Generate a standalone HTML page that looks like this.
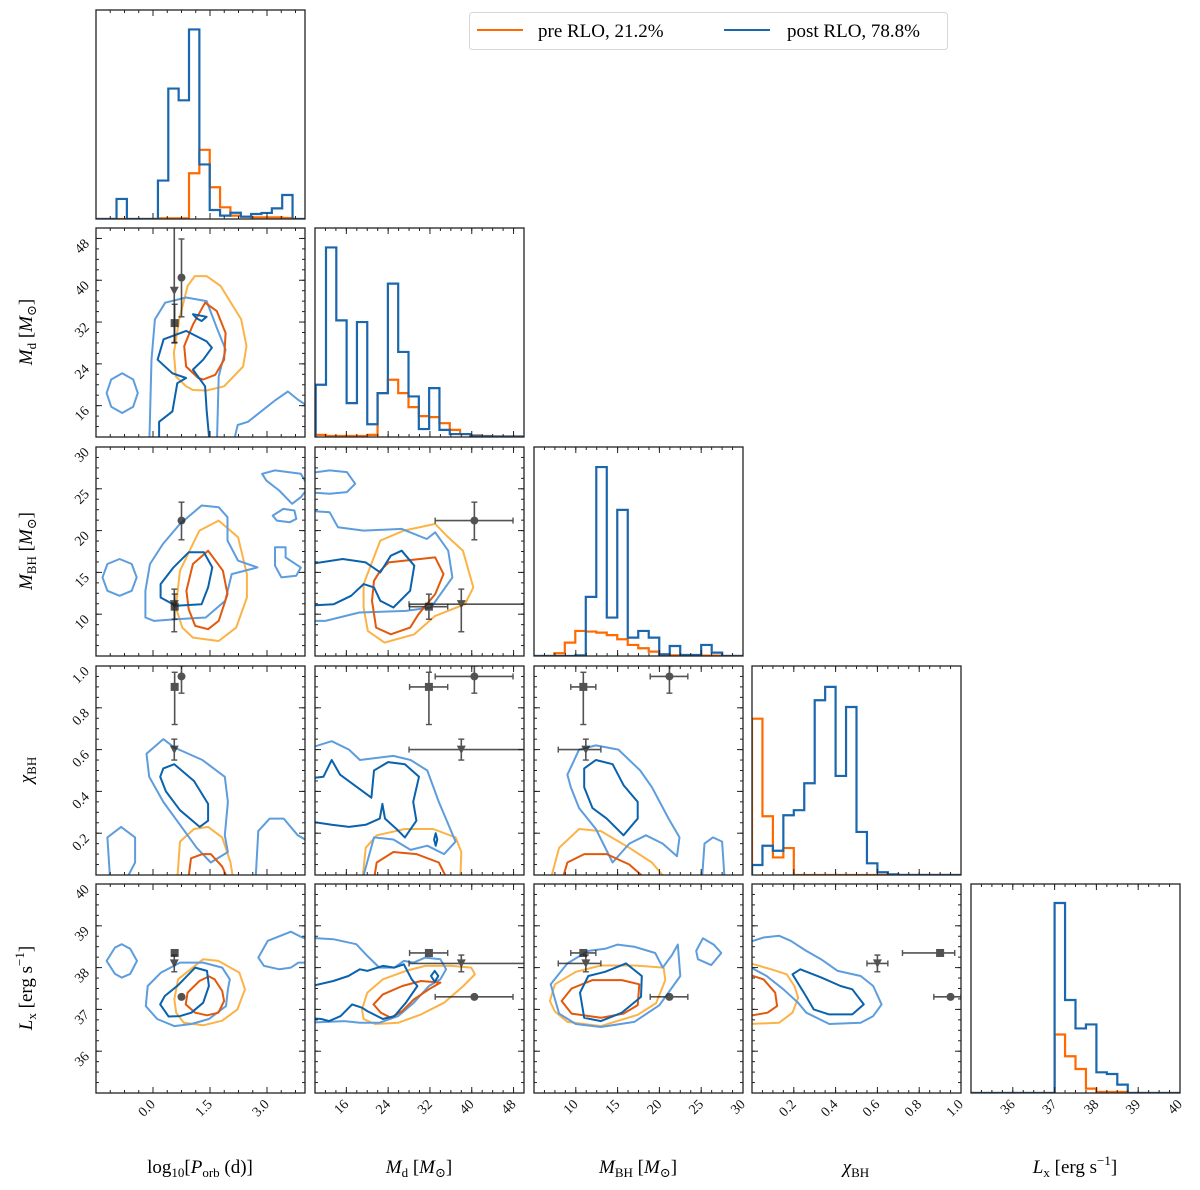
<!DOCTYPE html>
<html><head><meta charset="utf-8"><style>
html,body{margin:0;padding:0;background:#fff;}
svg{display:block;font-family:"Liberation Serif","DejaVu Serif",serif;}
</style></head><body>
<svg id="chart" width="1200" height="1190" viewBox="0 0 1200 1190" xmlns="http://www.w3.org/2000/svg"></svg>
<script>
// ---------- data ----------
const varNames = ['logP','Md','MBH','chi','Lx'];
const ranges = [[-1.5,4],[10,50],[5,30],[0,1],[35,40]];
const majorTicks = [[0,1.5,3],[16,24,32,40,48],[10,15,20,25,30],[0.2,0.4,0.6,0.8,1.0],[36,37,38,39,40]];
const tickLabels = [['0.0','1.5','3.0'],['16','24','32','40','48'],['10','15','20','25','30'],['0.2','0.4','0.6','0.8','1.0'],['36','37','38','39','40']];
const minorSteps = [0.375,2,1.25,0.05,0.25];

// histograms (diagonal)
const histStart = [-0.96,10.13,7.43,0,37];
const histWidth = [0.2725,1.974,1.255,0.05,0.25];
const histPost_logP = [.096,0,0,0,.184,.624,.568,.907,.261,.043,.016,.03,.011,.024,.029,.051,.115];
const histPre_logP  = [0,0,0,0,.003,.003,.003,.219,.331,.152,.056,.016,.011,.008,.008,.008,.005];
const histPost_Md = [.25,.907,.558,.162,.55,.061,.21,.734,.407,.194,.038,.234,.034,.014,.014,.005,.003,.002,.002,.002];
const histPre_Md  = [.01,.005,.005,.005,.005,.01,.21,.274,.21,.143,.1,.095,.066,.034,.014,.008,.005,.003,.003,.003];
const histPost_MBH = [0,0,.003,.283,.904,.184,.699,.088,.12,.088,.008,.048,.005,.005,.053,.016];
const histPre_MBH  = [.013,.064,.12,.117,.112,.1,.08,.053,.037,.021,.008,.003,.003,.002,.002,.002];
const histPost_chi = [.048,.14,.116,.286,.31,.439,.836,.9,.474,.804,.206,.056,.013,.003];
const histPre_chi  = [.748,.281,.084,.129,0,0,0,0,0,0,0,0,0,0];
const histPost_Lx = [.909,.445,.309,.328,.099,.091,.04];
const histPre_Lx  = [.28,.176,.115,.021,.005,.005,.005];
const histPost = [histPost_logP,histPost_Md,histPost_MBH,histPost_chi,histPost_Lx];
const histPre = [histPre_logP,histPre_Md,histPre_MBH,histPre_chi,histPre_Lx];

// observed systems
const obsMarkers = ['circle','square','triangle'];
const obsLogP = [0.75,0.57,0.56];
const obsMd = [40.5,31.8,38];
const obsMdLo = [7.5,3.7,10];
const obsMdHi = [7.4,3.6,20];
const obsMBH = [21.2,10.9,11.2];
const obsMBHLo = [2.3,1.5,3.3];
const obsMBHHi = [2.2,1.5,1.8];
const obsChi = [0.95,0.9,0.6];
const obsChiLo = [0.08,0.18,0.05];
const obsChiHi = [0.05,0.07,0.05];
const obsLx = [37.3,38.35,38.1];
const obsLxLo = [0,0.05,0.2];
const obsLxHi = [0,0.05,0.2];

// contours: [row, col, kind, closed, points(data units)]
const contours = [
 [1,0,'postOuter',true,[[-0.1,8],[-0.04,24.8],[0.05,32.5],[0.32,35.7],[0.87,36.7],[1.41,36],[1.68,30.9],[1.91,26.7],[1.73,21.6],[1.68,8]]],
 [1,0,'postInner',true,[[0.16,8],[0.16,12.9],[0.51,14.9],[0.64,20.3],[0.87,21.3],[0.51,22.2],[0.12,24.8],[0.28,28.7],[0.87,30.3],[1.41,28.3],[1.55,27.1],[1.32,24.8],[1.05,22.9],[1.37,19.7],[1.41,15.2],[1.5,8]]],
 [1,0,'postInner',true,[[1.05,33.5],[1.41,33],[1.28,32.2],[1.15,32.7]]],
 [1,0,'postOuter',true,[[-1.22,18.4],[-1.1,21],[-0.81,22.2],[-0.52,21],[-0.4,18.4],[-0.52,15.8],[-0.81,14.6],[-1.1,15.8]]],
 [1,0,'postOuter',false,[[2.09,8],[2.23,12.3],[2.5,12.9],[3.23,17.1],[3.55,18.7],[3.82,17.1],[4.1,15.8]]],
 [1,0,'preInner',true,[[1.19,21.3],[0.87,23.5],[0.82,27.4],[1.05,31.5],[1.37,35.7],[1.68,34.1],[1.91,29.9],[1.87,24.8],[1.64,21.9],[1.32,21]]],
 [1,0,'preOuter',true,[[0.87,19.7],[0.6,21.6],[0.55,26.1],[0.69,32.5],[0.91,38.9],[1.1,40.8],[1.41,40.8],[1.78,38.9],[2.32,32.5],[2.46,27.4],[2.37,23.5],[1.87,19.7],[1.41,18.9],[1.05,19]]],

 [2,0,'postOuter',true,[[-0.2,9.6],[0.03,9.2],[0.6,9.4],[1.39,9.6],[1.9,11.6],[2.07,14.8],[2.75,15.6],[2.24,16.4],[1.96,18.8],[1.96,21.6],[1.73,22.8],[1.28,23],[0.71,20.8],[0.26,18.4],[-0.08,16],[-0.2,12.8]]],
 [2,0,'postInner',true,[[0.2,12],[0.6,11],[1.28,11.2],[1.45,13.2],[1.56,15.6],[1.34,17.4],[0.94,17.4],[0.54,15.6],[0.2,13.6]]],
 [2,0,'postOuter',true,[[-1.33,14.4],[-1.2,16],[-0.88,16.6],[-0.56,16],[-0.43,14.4],[-0.56,12.8],[-0.88,12.2],[-1.2,12.8]]],
 [2,0,'postOuter',true,[[2.87,26.8],[3.21,27.2],[3.89,26.8],[4.1,25.2],[3.89,24],[3.66,23.2],[3.32,24.8],[2.98,26]]],
 [2,0,'postOuter',true,[[3.15,21.8],[3.43,22.6],[3.72,22.4],[3.77,21.4],[3.6,21],[3.26,21.2]]],
 [2,0,'postOuter',true,[[3.21,18],[3.49,18],[3.49,16.8],[3.89,15.6],[3.77,14.6],[3.38,14.4],[3.21,15.8]]],
 [2,0,'preInner',true,[[0.94,10.6],[1.11,8.6],[1.45,8.2],[1.73,9.2],[1.96,12.4],[1.84,15.2],[1.45,17.6],[1.05,16],[0.88,12.8]]],
 [2,0,'preOuter',true,[[0.77,8.4],[1.05,7.2],[1.73,6.8],[2.19,8.4],[2.47,12],[2.47,14.8],[2.24,19.2],[1.73,21.2],[1.22,20],[0.71,15.2],[0.6,10.8]]],

 [2,1,'postOuter',true,[[8,22.4],[12.8,22.2],[14.4,20.4],[19.3,20],[26.6,20.2],[31.4,19],[33,19.8],[35.5,17.6],[36.3,14.4],[32.2,10.8],[27.4,10.4],[18.5,10.2],[12,9.2],[8,9.2]]],
 [2,1,'postOuter',true,[[8,26.8],[12.8,27.2],[16.1,27],[17.7,25.6],[16.1,24.6],[12.8,24.4],[8,24.6]]],
 [2,1,'postInner',true,[[8,15.9],[15.3,16.6],[19.7,16.2],[22.5,15],[24.5,17],[26.6,17.6],[29,15.8],[28.2,12.8],[25,10.8],[22.5,11.6],[21.3,13.2],[19.3,13.6],[16.9,12.2],[13.6,11.2],[8,11]]],
 [2,1,'preInner',true,[[22.5,15.2],[24.1,16.2],[33,16.8],[34.6,14.8],[33,12.4],[29.8,10],[28.2,8.4],[24.5,7.6],[21.7,8.4],[20.9,11.6],[21.3,14]]],
 [2,1,'preOuter',true,[[19.3,13.6],[22.5,18.8],[27,20],[33,20.8],[35.5,19.2],[38.3,17.6],[40.3,13.2],[38.7,11.2],[33,9.8],[29,7.6],[23.3,6.6],[20.1,8],[19.3,10.8]]],

 [3,0,'postOuter',true,[[0.27,.65],[0.56,.61],[1.3,.55],[1.89,.47],[1.97,.35],[1.89,.19],[1.97,.11],[1.52,.06],[1.15,.13],[0.71,.24],[0.27,.35],[-0.1,.47],[-0.17,.58]]],
 [3,0,'postInner',true,[[0.27,.51],[0.56,.53],[1.08,.45],[1.45,.34],[1.45,.26],[1.23,.23],[0.71,.31],[0.34,.40],[0.19,.47]]],
 [3,0,'postOuter',true,[[-1.13,-0.02],[-1.2,.18],[-0.84,.23],[-0.47,.18],[-0.47,.06],[-0.7,-0.02]]],
 [3,0,'postOuter',false,[[2.7,-0.02],[2.77,.21],[3.07,.27],[3.44,.27],[3.81,.19],[4.1,.16]]],
 [3,0,'preOuter',false,[[0.64,-0.02],[0.71,.16],[1.08,.22],[1.45,.23],[1.82,.18],[2.04,.06],[2.11,-0.02]]],
 [3,0,'preInner',false,[[0.93,-0.02],[1.0,.08],[1.3,.1],[1.52,.1],[1.82,.04],[1.97,-0.02]]],

 [3,1,'postOuter',false,[[8,.6],[13.2,.64],[16.5,.6],[18.6,.55],[25,.57],[28.3,.55],[31.5,.5],[33.7,.35],[36.9,.16],[34.7,.1],[31.5,.14],[28.3,.12],[25,.17],[21.3,.18],[19.1,-0.02]]],
 [3,1,'postInner',false,[[8,.46],[11.6,.47],[13.2,.55],[14.8,.48],[17.5,.43],[20.8,.37],[21.3,.5],[24,.54],[27.2,.53],[29.9,.47],[28.8,.35],[29.4,.26],[27.2,.18],[25.6,.22],[23.4,.27],[22.9,.34],[22.4,.27],[19.7,.24],[16.5,.23],[13.2,.24],[8,.26]]],
 [3,1,'postInner',true,[[33.1,.2],[33.4,.17],[33.1,.14],[32.8,.17]]],
 [3,1,'preOuter',false,[[19.1,-0.02],[19.7,.13],[21.8,.19],[27.2,.22],[32.6,.22],[36.9,.18],[38,.11],[37.8,-0.02]]],
 [3,1,'preInner',false,[[21.3,-0.02],[21.8,.06],[25,.11],[29.4,.1],[33.7,.06],[35.3,-0.02]]],

 [3,2,'postOuter',true,[[9,.48],[10.4,.6],[12.4,.62],[15.1,.6],[17.7,.5],[19.1,.42],[21.1,.27],[22.4,.18],[22.1,.09],[20.4,.15],[18.4,.19],[16.4,.15],[14.4,.06],[12.4,.22],[10.4,.32],[9.4,.42]]],
 [3,2,'postInner',true,[[11,.51],[12.4,.55],[14.4,.53],[15.7,.43],[17.4,.35],[17.4,.27],[15.7,.19],[13.7,.27],[12,.32],[11,.42]]],
 [3,2,'postOuter',false,[[25.1,-0.02],[25.4,.15],[26.4,.18],[27.5,.16],[27.8,-0.02]]],
 [3,2,'preOuter',false,[[7,-0.02],[8,.13],[10.4,.22],[13,.21],[16.4,.13],[19.1,.06],[20.8,-0.02]]],
 [3,2,'preInner',false,[[8.4,-0.02],[9,.06],[11,.1],[13.7,.1],[16.4,.05],[18.4,-0.02]]],

 [4,0,'postOuter',true,[[-0.19,37.08],[-0.14,37.56],[0.21,37.88],[0.71,38.12],[1.32,38.12],[1.82,38.0],[2.02,37.72],[1.97,37.48],[1.92,37.08],[1.47,36.77],[1.01,36.65],[0.56,36.6],[0.11,36.77]]],
 [4,0,'postInner',true,[[0.19,37.12],[0.31,37.32],[0.66,37.58],[1.11,38.0],[1.42,37.92],[1.47,37.56],[1.32,37.16],[1.01,36.92],[0.71,36.84],[0.41,36.83]]],
 [4,0,'preInner',true,[[0.86,37.12],[0.91,37.4],[1.22,37.68],[1.47,37.79],[1.62,37.72],[1.82,37.44],[1.87,37.2],[1.72,36.92],[1.42,36.86],[1.11,36.92]]],
 [4,0,'preOuter',true,[[0.61,36.92],[0.56,37.24],[0.66,37.72],[1.32,38.2],[1.72,38.16],[2.27,37.88],[2.42,37.48],[2.22,37.0],[1.82,36.73],[1.32,36.62],[0.81,36.68]]],
 [4,0,'postOuter',true,[[-1.22,38.16],[-1.0,38.48],[-0.82,38.56],[-0.6,38.45],[-0.42,38.16],[-0.6,37.85],[-0.82,37.76],[-1.0,37.85]]],
 [4,0,'postOuter',false,[[4.1,38.68],[3.93,38.72],[3.63,38.86],[3.02,38.64],[2.77,38.24],[2.92,38.04],[3.33,37.96],[3.63,38.0],[3.83,38.12],[4.1,38.12]]],

 [4,1,'postOuter',false,[[8,38.72],[13.5,38.68],[17.9,38.56],[20,38.28],[22.3,38.0],[25.2,38.0],[27,38.16],[28.9,38.12],[31.1,38.24],[34,38.2],[35.1,37.96],[34,37.72],[31.8,37.56],[28.9,37.16],[25.9,36.84],[22.3,36.68],[18.6,36.68],[15.6,36.72],[8,36.68]]],
 [4,1,'postInner',false,[[8,37.52],[13.5,37.68],[16.4,37.8],[18.6,37.96],[20,37.92],[23,38.04],[25.2,38.0],[27,38.08],[28.5,37.72],[29.6,37.56],[27.4,37.16],[25.2,36.84],[23,36.77],[20,36.96],[19,37.04],[17.1,37.12],[14.9,36.84],[12.7,36.72],[11.2,36.77],[8,36.8]]],
 [4,1,'postInner',true,[[32.9,37.92],[33.6,37.8],[32.9,37.66],[32.2,37.8]]],
 [4,1,'preInner',true,[[21.2,37.12],[23,37.36],[26.7,37.56],[30.3,37.68],[34,37.64],[31.8,37.48],[28.9,37.24],[26.7,36.96],[24.5,36.8],[22.6,36.92]]],
 [4,1,'preOuter',true,[[19,37.0],[20,37.4],[23,37.72],[27.4,37.92],[31.1,38.04],[36.2,38.04],[39.9,38.0],[40.6,37.84],[38.4,37.56],[34.7,37.16],[30.3,36.88],[25.9,36.68],[21.5,36.65],[19.3,36.77]]],

 [4,2,'postOuter',true,[[7,37.6],[9,38.1],[11.5,38.4],[13.5,38.45],[15,38.55],[17,38.5],[19.5,38.35],[20.4,38.0],[21.5,38.3],[22.2,38.55],[22.5,37.8],[20,37.1],[17,36.7],[13,36.58],[10,36.65],[8,36.9]]],
 [4,2,'postInner',true,[[10.5,37.4],[11.5,37.8],[13.5,37.9],[16,38.1],[17.9,37.8],[17.8,37.3],[15.5,36.92],[13,36.72],[11,36.8]]],
 [4,2,'preInner',true,[[8.3,37.2],[9.5,37.5],[12,37.7],[15.5,37.7],[17.6,37.6],[17.4,37.1],[15.7,36.9],[13,36.8],[9.5,36.9]]],
 [4,2,'preOuter',true,[[6.9,37.2],[7.5,37.6],[10,37.9],[13,38.05],[17,38.05],[20.5,38.0],[20.7,37.7],[19.6,37.15],[17.4,36.87],[13,36.6],[9,36.7],[7.5,36.95]]],
 [4,2,'postOuter',true,[[25.2,38.7],[26.5,38.55],[27.4,38.35],[26.2,38.06],[24.6,38.2],[24.4,38.4]]],

 [4,3,'postOuter',true,[[-0.02,38.6],[0.055,38.72],[0.13,38.76],[0.185,38.64],[0.26,38.4],[0.33,38.2],[0.41,37.92],[0.52,37.8],[0.58,37.56],[0.62,37.12],[0.58,36.84],[0.52,36.68],[0.37,36.65],[0.26,36.92],[0.22,37.16],[0.15,37.48],[0.07,37.8],[-0.02,38.04]]],
 [4,3,'postInner',true,[[0.194,37.84],[0.231,37.96],[0.332,37.76],[0.424,37.56],[0.48,37.48],[0.535,37.12],[0.48,36.88],[0.369,36.88],[0.295,37.0],[0.258,37.32]]],
 [4,3,'preOuter',false,[[-0.02,38.12],[0.092,37.96],[0.166,37.84],[0.203,37.56],[0.221,37.28],[0.194,36.92],[0.129,36.68],[-0.02,36.65]]],
 [4,3,'preInner',false,[[-0.02,37.84],[0.055,37.72],[0.111,37.4],[0.12,37.08],[0.074,36.92],[-0.02,36.84]]]
];

// ---------- layout ----------
const xPos=[96,315,534,752,971], yPos=[10,228,447,666,884], S=209;
const colors={postOuter:'#5d9ddd',postInner:'#0a62ad',preOuter:'#fbb347',preInner:'#e2590c',histPost:'#1b67ad',histPre:'#ff6a00'};
const NS='http://www.w3.org/2000/svg';
const svg=document.getElementById('chart');
function mk(tag,attrs,parent){const e=document.createElementNS(NS,tag);for(const k in attrs)e.setAttribute(k,attrs[k]);(parent||svg).appendChild(e);return e;}
function sx(c,v){return xPos[c]+(v-ranges[c][0])/(ranges[c][1]-ranges[c][0])*S;}
function sy(r,v){return yPos[r]+S-(v-ranges[r][0])/(ranges[r][1]-ranges[r][0])*S;}
function hy(r,v){return yPos[r]+S-v*S;}

const defs=mk('defs',{});
for(let r=0;r<5;r++)for(let c=0;c<=r;c++){
  const cp=mk('clipPath',{id:'clip'+r+c},defs);
  mk('rect',{x:xPos[c],y:yPos[r],width:S,height:S},cp);
}

// panels
for(let r=0;r<5;r++)for(let c=0;c<=r;c++){
  const g=mk('g',{});
  
  
  const inner=mk('g',{'clip-path':'url(#clip'+r+c+')'},g);
  if(r===c){
    [['histPre',histPre[c]],['histPost',histPost[c]]].forEach(([key,vals])=>{
      let d='M'+xPos[c]+','+hy(r,0);
      const e0=histStart[c];
      d+=' L'+sx(c,e0)+','+hy(r,0);
      vals.forEach((v,i)=>{
        const a=sx(c,e0+i*histWidth[c]), b=sx(c,e0+(i+1)*histWidth[c]);
        d+=' L'+a+','+hy(r,v)+' L'+b+','+hy(r,v);
      });
      d+=' L'+sx(c,e0+vals.length*histWidth[c])+','+hy(r,0)+' L'+(xPos[c]+S)+','+hy(r,0);
      const p=mk('path',{d:d,fill:'none',stroke:colors[key],'stroke-width':2.2},inner);
      
      
    });
  } else {
    ['preOuter','postOuter','preInner','postInner'].forEach(kind=>{
      contours.filter(k=>k[0]===r&&k[1]===c&&k[2]===kind).forEach(k=>{
        const pts=k[4].map(p=>sx(c,p[0]).toFixed(1)+','+sy(r,p[1]).toFixed(1)).join(' ');
        const el=mk(k[3]?'polygon':'polyline',{points:pts,fill:'none',stroke:colors[kind],'stroke-width':2,'stroke-linejoin':'round'},inner);
        
        
      });
    });
    // observations
    const obsVals=[obsLogP,obsMd,obsMBH,obsChi,obsLx];
    const obsLo=[null,obsMdLo,obsMBHLo,obsChiLo,obsLxLo];
    const obsHi=[null,obsMdHi,obsMBHHi,obsChiHi,obsLxHi];
    obsMarkers.forEach((m,i)=>{
      const og=mk('g',{opacity:0.78},inner);
      
      
      const X=sx(c,obsVals[c][i]), Y=sy(r,obsVals[r][i]);
      if(obsLo[c]&&(obsLo[c][i]||obsHi[c][i])){
        const x1=sx(c,obsVals[c][i]-obsLo[c][i]), x2=sx(c,obsVals[c][i]+obsHi[c][i]);
        mk('line',{x1:x1,y1:Y,x2:x2,y2:Y,stroke:'#222','stroke-width':1.6},og);
        mk('line',{x1:x1,y1:Y-3,x2:x1,y2:Y+3,stroke:'#222','stroke-width':1.4},og);
        mk('line',{x1:x2,y1:Y-3,x2:x2,y2:Y+3,stroke:'#222','stroke-width':1.4},og);
      }
      if(obsLo[r]&&(obsLo[r][i]||obsHi[r][i])){
        const y1=sy(r,obsVals[r][i]-obsLo[r][i]), y2=sy(r,obsVals[r][i]+obsHi[r][i]);
        mk('line',{x1:X,y1:y1,x2:X,y2:y2,stroke:'#222','stroke-width':1.6},og);
        mk('line',{x1:X-3,y1:y1,x2:X+3,y2:y1,stroke:'#222','stroke-width':1.4},og);
        mk('line',{x1:X-3,y1:y2,x2:X+3,y2:y2,stroke:'#222','stroke-width':1.4},og);
      }
      if(m==='circle') mk('circle',{cx:X,cy:Y,r:4,fill:'#222'},og);
      else if(m==='square') mk('rect',{x:X-4,y:Y-4,width:8,height:8,fill:'#222'},og);
      else mk('polygon',{points:(X-4.5)+','+(Y-4)+' '+(X+4.5)+','+(Y-4)+' '+X+','+(Y+4.5),fill:'#222'},og);
    });
  }
  // frame
  const fr=mk('rect',{x:xPos[c],y:yPos[r],width:S,height:S,fill:'none',stroke:'#222','stroke-width':1.3},g);
  
  
  // ticks
  const tg=mk('g',{stroke:'#222','stroke-width':1},g);
  const drawX=(vals,len)=>vals.forEach(v=>{const X=sx(c,v);if(X<xPos[c]+0.5||X>xPos[c]+S-0.5)return;
    mk('line',{x1:X,y1:yPos[r]+S,x2:X,y2:yPos[r]+S-len},tg);mk('line',{x1:X,y1:yPos[r],x2:X,y2:yPos[r]+len},tg);});
  const drawY=(vals,len)=>vals.forEach(v=>{const Y=sy(r,v);if(Y<yPos[r]+0.5||Y>yPos[r]+S-0.5)return;
    mk('line',{x1:xPos[c],y1:Y,x2:xPos[c]+len,y2:Y},tg);mk('line',{x1:xPos[c]+S,y1:Y,x2:xPos[c]+S-len,y2:Y},tg);});
  const minors=k=>{const a=[];for(let v=ranges[k][0];v<=ranges[k][1]+1e-9;v+=minorSteps[k])a.push(v);return a;};
  drawX(majorTicks[c],6); drawX(minors(c),3);
  if(r!==c){drawY(majorTicks[r],6); drawY(minors(r),3);}
}

// tick labels
for(let c=0;c<5;c++){
  majorTicks[c].forEach((v,i)=>{
    const X=sx(c,v), Y=yPos[4]+S+12;
    const t=mk('text',{x:X+3,y:Y,'text-anchor':'end','font-size':14,fill:'#111',transform:'rotate(-45 '+(X+3)+' '+Y+')'});
    t.textContent=tickLabels[c][i];
    
    
  });
}
for(let r=1;r<5;r++){
  majorTicks[r].forEach((v,i)=>{
    const Y=sy(r,v)+6, X=xPos[0]-6;
    const t=mk('text',{x:X,y:Y,'text-anchor':'end','font-size':14,fill:'#111',transform:'rotate(-45 '+X+' '+Y+')'});
    t.textContent=tickLabels[r][i];
    
    
  });
}
</script>
<!-- axis titles -->
<svg width="1200" height="1190" style="position:absolute;left:0;top:0" font-family="Liberation Serif, DejaVu Serif, serif">
  <text x="200" y="1173" text-anchor="middle" font-size="19">log<tspan font-size="13" dy="4">10</tspan><tspan dy="-4">[</tspan><tspan font-style="italic">P</tspan><tspan font-size="13" dy="4">orb</tspan><tspan dy="-4"> (d)]</tspan></text>
  <text x="419" y="1173" text-anchor="middle" font-size="19"><tspan font-style="italic">M</tspan><tspan font-size="13" dy="4">d</tspan><tspan dy="-4"> [</tspan><tspan font-style="italic">M</tspan><tspan font-size="13" dy="4">⊙</tspan><tspan dy="-4">]</tspan></text>
  <text x="638" y="1173" text-anchor="middle" font-size="19"><tspan font-style="italic">M</tspan><tspan font-size="13" dy="4">BH</tspan><tspan dy="-4"> [</tspan><tspan font-style="italic">M</tspan><tspan font-size="13" dy="4">⊙</tspan><tspan dy="-4">]</tspan></text>
  <text x="856" y="1173" text-anchor="middle" font-size="19"><tspan font-style="italic">χ</tspan><tspan font-size="13" dy="4">BH</tspan></text>
  <text x="1075" y="1173" text-anchor="middle" font-size="19"><tspan font-style="italic">L</tspan><tspan font-size="13" dy="4">x</tspan><tspan dy="-4"> [erg s</tspan><tspan font-size="13" dy="-8">−1</tspan><tspan dy="8">]</tspan></text>
  <text transform="translate(32 332) rotate(-90)" text-anchor="middle" font-size="19"><tspan font-style="italic">M</tspan><tspan font-size="13" dy="4">d</tspan><tspan dy="-4"> [</tspan><tspan font-style="italic">M</tspan><tspan font-size="13" dy="4">⊙</tspan><tspan dy="-4">]</tspan></text>
  <text transform="translate(32 551) rotate(-90)" text-anchor="middle" font-size="19"><tspan font-style="italic">M</tspan><tspan font-size="13" dy="4">BH</tspan><tspan dy="-4"> [</tspan><tspan font-style="italic">M</tspan><tspan font-size="13" dy="4">⊙</tspan><tspan dy="-4">]</tspan></text>
  <text transform="translate(32 770) rotate(-90)" text-anchor="middle" font-size="19"><tspan font-style="italic">χ</tspan><tspan font-size="13" dy="4">BH</tspan></text>
  <text transform="translate(32 988) rotate(-90)" text-anchor="middle" font-size="19"><tspan font-style="italic">L</tspan><tspan font-size="13" dy="4">x</tspan><tspan dy="-4"> [erg s</tspan><tspan font-size="13" dy="-8">−1</tspan><tspan dy="8">]</tspan></text>
  <g>
    <rect x="469.5" y="12.5" width="478" height="37" rx="3" fill="#fff" stroke="#d6d6d6" stroke-width="1"/>
    <line x1="477" y1="30" x2="523" y2="30" stroke="#ff6a00" stroke-width="2"/>
    <text x="538" y="37" font-size="19">pre RLO, 21.2%</text>
    <line x1="724" y1="30" x2="770" y2="30" stroke="#1b67ad" stroke-width="2"/>
    <text x="787" y="37" font-size="19">post RLO, 78.8%</text>
  </g>
</svg>
</body></html>
